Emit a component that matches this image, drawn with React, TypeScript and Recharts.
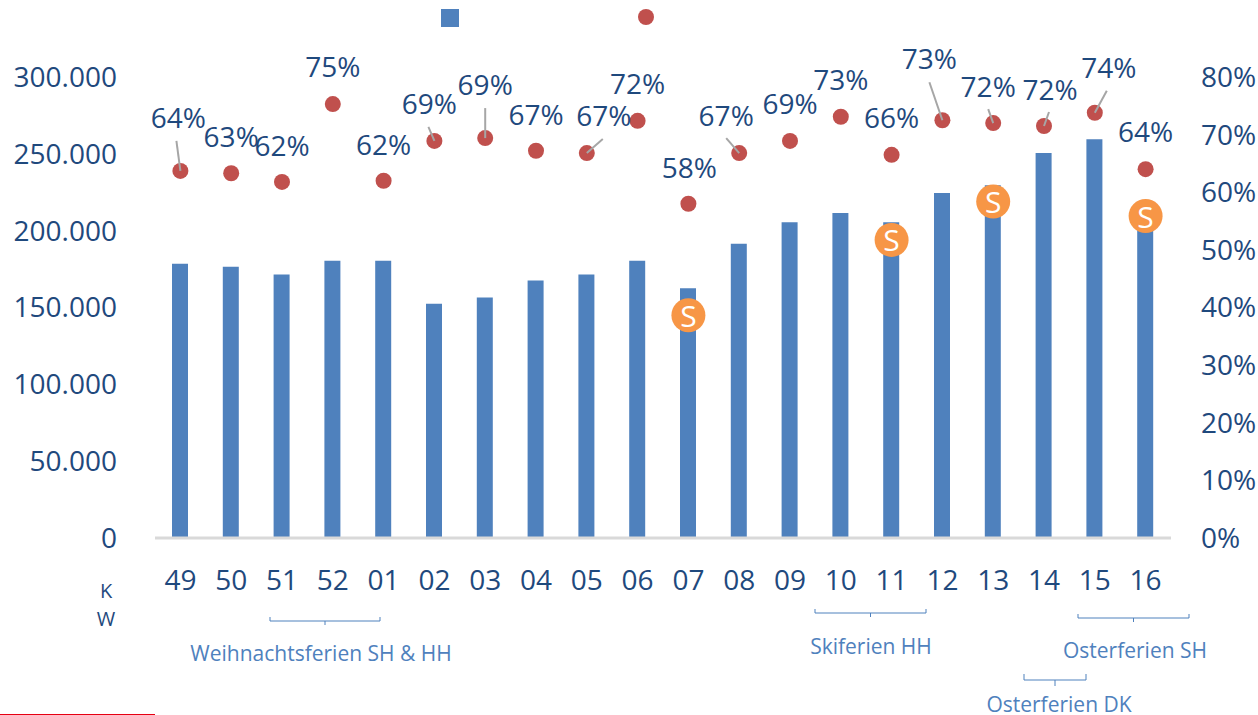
import { Bar, ComposedChart, LabelList, Line, XAxis, YAxis } from "recharts";

const weeks = ["49", "50", "51", "52", "01", "02", "03", "04", "05", "06", "07", "08", "09", "10", "11", "12", "13", "14", "15", "16"];
const barValues = [178500, 176500, 171500, 180500, 180500, 152500, 156500, 167500, 171500, 180500, 162500, 191500, 205500, 211500, 205500, 224500, 229500, 250500, 259500, 208000];
const shareValues = [63.7, 63.3, 61.8, 75.3, 62, 68.9, 69.4, 67.2, 66.8, 72.4, 58, 66.8, 68.9, 73.1, 66.5, 72.5, 72, 71.5, 73.8, 64];
const shareLabels = ["64%", "63%", "62%", "75%", "62%", "69%", "69%", "67%", "67%", "72%", "58%", "67%", "69%", "73%", "66%", "73%", "72%", "72%", "74%", "64%"];
const markerValues = [null, null, null, null, null, null, null, null, null, null, 145000, null, null, null, 194000, null, 219000, null, null, 209500];

const leftTicks = [0, 50000, 100000, 150000, 200000, 250000, 300000];
const rightTicks = [0, 10, 20, 30, 40, 50, 60, 70, 80];

// label centre relative to its dot, then start of the grey leader line (if any)
const labelOffsets = [[-2, -54], [0, -37], [0, -37], [0, -38], [0, -37], [-5, -38], [0, -54], [0, -37], [17, -38], [0, -38], [1, -37], [-13, -38], [0, -38], [0, -38], [0, -38], [-13, -62], [-5, -37], [6, -37], [14, -46], [0, -38]];
const leaderOffsets = [[-4, -30], null, null, null, null, [-6, -14], [0, -30], null, [16, -14], null, null, [-13, -15], null, null, null, [-13, -38], [-5, -14], [5, -14], [12, -22], null];

const brackets = [
  { x1: 270, x2: 380, top: 617, bottom: 621, tip: 625, label: "Weihnachtsferien SH & HH", labelX: 321, labelY: 653 },
  { x1: 815, x2: 926, top: 609, bottom: 613, tip: 617, label: "Skiferien HH", labelX: 871, labelY: 646 },
  { x1: 1078, x2: 1189, top: 614, bottom: 618, tip: 622, label: "Osterferien SH", labelX: 1135, labelY: 650 },
  { x1: 1024, x2: 1086, top: 674, bottom: 680, tip: 686, label: "Osterferien DK", labelX: 1059, labelY: 704 },
];

const data = weeks.map((week, i) => ({
  week,
  bars: barValues[i],
  share: shareValues[i],
  shareLabel: shareLabels[i],
  marker: markerValues[i],
}));

const FONT = "'Open Sans', sans-serif";
const NAVY = "#1F497D";
const BLUE = "#4F81BD";
const RED = "#C0504D";
const ORANGE = "#F79646";

const tickStyle = { fontFamily: FONT, fontSize: 28, fill: NAVY };
const noteStyle = { fontFamily: FONT, fontSize: 21, fill: BLUE };

function ShareLabel(props: any) {
  const { x, y, index, value } = props;
  const [dx, dy] = labelOffsets[index];
  const leader = leaderOffsets[index];
  return (
    <g>
      {leader && (
        <line x1={x + leader[0]} y1={y + leader[1]} x2={x} y2={y} stroke="#A6A6A6" strokeWidth={2} />
      )}
      <text x={x + dx} y={y + dy} textAnchor="middle" dominantBaseline="central" style={tickStyle}>
        {value}
      </text>
    </g>
  );
}

function MarkerDot(props: any) {
  const { cx, cy, index, payload } = props;
  if (payload.marker == null || cy == null) return <g key={index} />;
  return (
    <g key={index}>
      <circle cx={cx} cy={cy} r={17} fill={ORANGE} />
      <text x={cx} y={cy} textAnchor="middle" dominantBaseline="central" style={{ ...tickStyle, fontSize: 30, fill: "#fff" }}>
        S
      </text>
    </g>
  );
}

export default function App() {
  return (
    <div style={{ position: "absolute", left: 0, top: 0, width: 1258, height: 715, overflow: "hidden" }}>
      <ComposedChart
        width={1258}
        height={715}
        data={data}
        margin={{ top: 77, right: 0, bottom: 0, left: 0 }}
      >
        <XAxis
          dataKey="week"
          interval={0}
          height={177}
          tickLine={false}
          tickSize={0}
          tickMargin={32}
          axisLine={{ stroke: "#D9D9D9", strokeWidth: 3 }}
          tick={tickStyle}
        />
        <YAxis
          yAxisId="left"
          width={155}
          domain={[0, 300000]}
          ticks={leftTicks}
          tickFormatter={(v: number) => v.toLocaleString("de-DE")}
          axisLine={false}
          tickLine={false}
          tickSize={0}
          tickMargin={38}
          tick={tickStyle}
        />
        <YAxis
          yAxisId="right"
          orientation="right"
          width={87}
          domain={[0, 80]}
          ticks={rightTicks}
          tickFormatter={(v: number) => `${v}%`}
          axisLine={false}
          tickLine={false}
          tickSize={0}
          tickMargin={30}
          tick={tickStyle}
        />
        <Bar yAxisId="left" dataKey="bars" barSize={16} fill={BLUE} isAnimationActive={false} />
        <Line
          yAxisId="right"
          dataKey="share"
          stroke="none"
          dot={{ r: 8, fill: RED, stroke: "none" }}
          activeDot={false}
          isAnimationActive={false}
        >
          <LabelList dataKey="shareLabel" content={<ShareLabel />} />
        </Line>
        <Line
          yAxisId="left"
          dataKey="marker"
          stroke="none"
          dot={<MarkerDot />}
          activeDot={false}
          isAnimationActive={false}
        />
      </ComposedChart>
      <svg width={1258} height={715} style={{ position: "absolute", left: 0, top: 0, pointerEvents: "none" }}>
        <rect x={441} y={9} width={18} height={18} fill={BLUE} />
        <circle cx={646} cy={17} r={8} fill={RED} />
        <text x={106} y={590} textAnchor="middle" dominantBaseline="central" style={{ fontFamily: FONT, fontSize: 20, fill: NAVY }}>K</text>
        <text x={106} y={618} textAnchor="middle" dominantBaseline="central" style={{ fontFamily: FONT, fontSize: 20, fill: NAVY }}>W</text>
        {brackets.map((b) => (
          <g key={b.label}>
            <path
              d={`M${b.x1} ${b.top}V${b.bottom}H${b.x2}V${b.top}M${(b.x1 + b.x2) / 2} ${b.bottom}V${b.tip}`}
              fill="none"
              stroke={BLUE}
              strokeWidth={1}
            />
            <text x={b.labelX} y={b.labelY} textAnchor="middle" dominantBaseline="central" style={noteStyle}>
              {b.label}
            </text>
          </g>
        ))}
        <line x1={0} y1={714.5} x2={155} y2={714.5} stroke="#E60012" strokeWidth={1} />
      </svg>
    </div>
  );
}
